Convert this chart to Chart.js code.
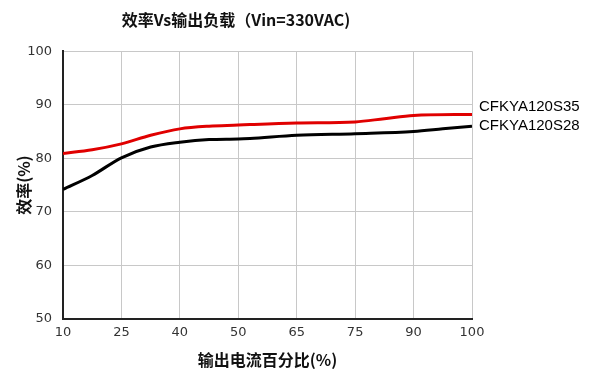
<!DOCTYPE html>
<html lang="zh">
<head>
  <meta charset="UTF-8">
  <title>效率Vs输出负载</title>
  <script src="https://cdn.jsdelivr.net/npm/chart.js"></script>
  <style>
    html, body { margin: 0; padding: 0; background: #fff; }
    #wrap { width: 598px; height: 370px; }
  </style>
</head>
<body>
<div id="wrap"><canvas id="effChart"></canvas></div>
<script>
// x tick labels (evenly spaced on the chart, so positions are tick indices)
const loadLabels = ['10', '25', '40', '50', '65', '75', '90', '100'];

// sample positions along the x axis (in tick-index units)
const posS35 = [0, 0.5, 1, 1.5, 2, 2.5, 3, 3.2, 4, 5, 5.5, 6, 7];
const effS35 = [80.9, 81.6, 82.7, 84.3, 85.5, 86.0, 86.2, 86.3, 86.6, 86.8, 87.4, 88.0, 88.2];

const posS28 = [0, 0.5, 1, 1.5, 2, 2.5, 3, 3.2, 4, 5, 6, 6.5, 7];
const effS28 = [74.2, 76.8, 80.1, 82.1, 83.0, 83.5, 83.6, 83.7, 84.3, 84.6, 85.0, 85.5, 86.0];

const seriesNames = ['CFKYA120S35', 'CFKYA120S28'];
const seriesColors = ['#e00000', '#000000'];

const toPoints = (xs, ys) => xs.map((x, i) => ({ x, y: ys[i] }));

// series names written to the right of the plot, next to the line ends
const endLabels = {
  id: 'endLabels',
  afterDatasetsDraw(chart) {
    const { ctx, chartArea, scales } = chart;
    const nudge = [-8, 0];
    ctx.save();
    ctx.font = '15px "Liberation Sans", Arial, sans-serif';
    ctx.fillStyle = '#000';
    ctx.textBaseline = 'middle';
    ctx.textAlign = 'left';
    chart.data.datasets.forEach((ds, i) => {
      const last = ds.data[ds.data.length - 1];
      const y = scales.y.getPixelForValue(last.y) + nudge[i];
      ctx.fillText(ds.label, chartArea.right + 7, y);
    });
    ctx.restore();
  }
};

new Chart(document.getElementById('effChart').getContext('2d'), {
  type: 'line',
  data: {
    datasets: [
      {
        label: seriesNames[0],
        data: toPoints(posS35, effS35),
        borderColor: seriesColors[0],
        borderWidth: 3,
        pointRadius: 0,
        cubicInterpolationMode: 'monotone'
      },
      {
        label: seriesNames[1],
        data: toPoints(posS28, effS28),
        borderColor: seriesColors[1],
        borderWidth: 3,
        pointRadius: 0,
        cubicInterpolationMode: 'monotone'
      }
    ]
  },
  options: {
    responsive: true,
    maintainAspectRatio: false,
    animation: false,
    layout: { padding: { left: 0, right: 126, top: 0, bottom: 0 } },
    plugins: {
      legend: { display: false },
      tooltip: { enabled: false },
      title: {
        display: true,
        text: '效率Vs输出负载（Vin=330VAC)',
        color: '#111',
        font: { family: '"Noto Sans CJK SC", sans-serif', size: 16, weight: 'bold' },
        padding: { top: 10, bottom: 22 }
      }
    },
    scales: {
      x: {
        type: 'linear',
        min: 0,
        max: loadLabels.length - 1,
        afterFit: s => { s.height = 51; },
        ticks: {
          stepSize: 1,
          padding: 6,
          color: '#333',
          font: { family: '"DejaVu Sans", sans-serif', size: 13 },
          callback: v => loadLabels[v]
        },
        grid: { color: '#c8c8c8', lineWidth: 1, drawTicks: false },
        border: { color: '#222', width: 2 },
        title: {
          display: true,
          text: '输出电流百分比(%)',
          color: '#111',
          font: { family: '"Noto Sans CJK SC", sans-serif', size: 16, weight: 'bold' },
          padding: { top: 0, bottom: 0 }
        }
      },
      y: {
        min: 50,
        max: 100,
        afterFit: s => { s.width = 63; },
        ticks: {
          stepSize: 10,
          padding: 11,
          color: '#333',
          font: { family: '"DejaVu Sans", sans-serif', size: 13 }
        },
        grid: { color: '#c8c8c8', lineWidth: 1, drawTicks: false },
        border: { color: '#222', width: 2 },
        title: {
          display: true,
          text: '效率(%)',
          color: '#111',
          font: { family: '"Noto Sans CJK SC", sans-serif', size: 16, weight: 'bold' },
          padding: { top: 14, bottom: 0 }
        }
      }
    }
  },
  plugins: [endLabels]
});
</script>
</body>
</html>
